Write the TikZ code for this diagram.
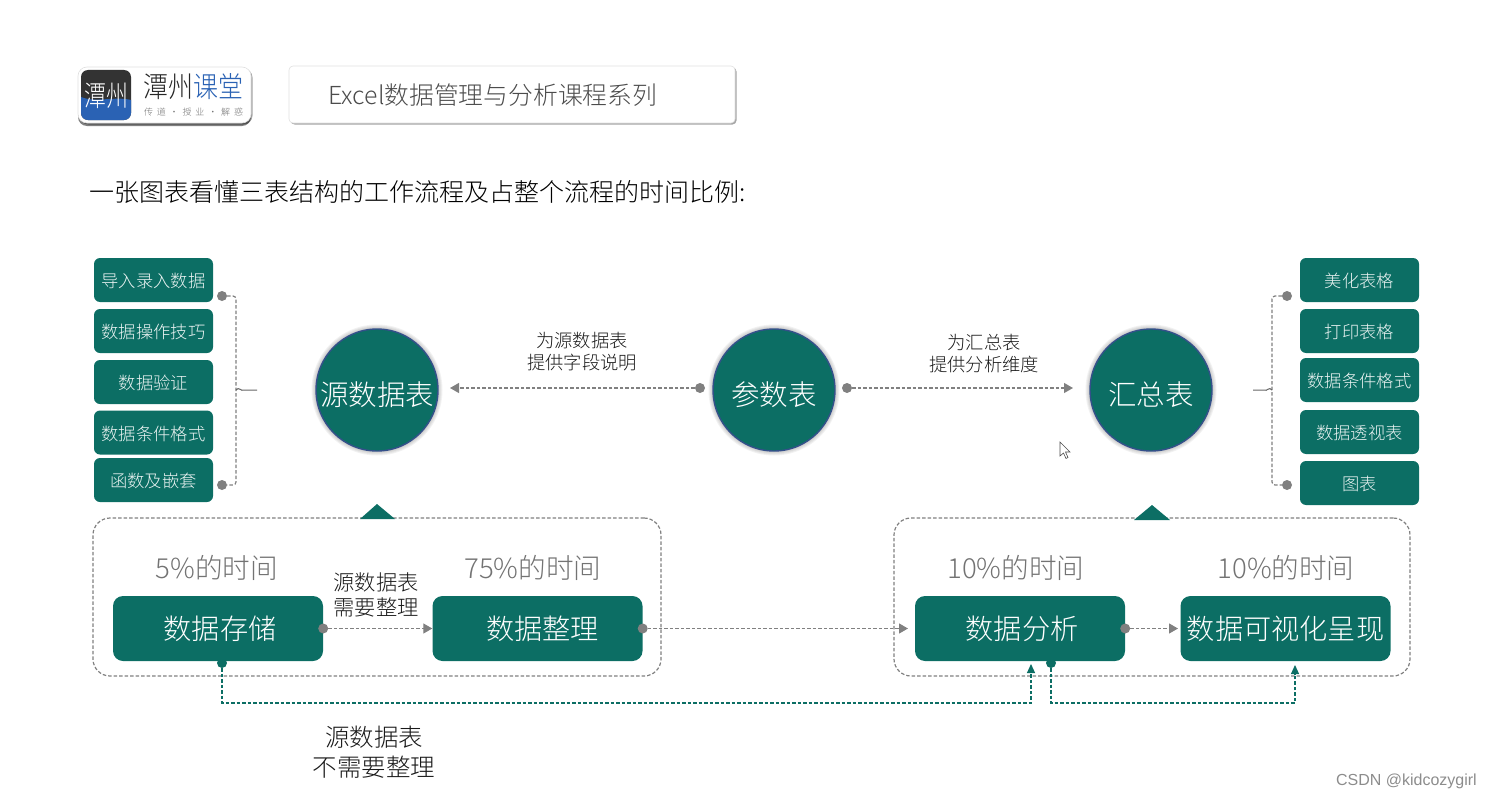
\documentclass[tikz,border=0pt]{standalone}
\usepackage{fontspec}
\setmainfont{Noto Sans CJK SC}[UprightFont=* Light]
\newfontfamily\wmfont{Liberation Sans}
\usetikzlibrary{arrows.meta,shadows}
\definecolor{deepteal}{HTML}{0C6E64}
\definecolor{ringblue}{HTML}{34508A}
\definecolor{dashgray}{HTML}{808080}
\definecolor{logoblue}{HTML}{2A62B4}
\tikzset{
    tagbox/.style = {fill = deepteal, rounded corners = 6pt, minimum width = 119pt, minimum height = 44pt,
        inner sep = 0pt, text = white!92!deepteal, text height = 15pt, text depth = 0pt, font = \fontsize{17.3}{20}\selectfont},
    stagebox/.style = {fill = deepteal, rounded corners = 10pt, minimum width = 210pt, minimum height = 65pt,
        inner sep = 0pt, text = white, font = \fontsize{28.2}{32}\selectfont},
    roundnode/.style = {circle, fill = deepteal, draw = ringblue, line width = 1.4pt, minimum size = 122pt,
        inner sep = 0pt, text = white, text height = 30pt, text depth = 0pt, font = \fontsize{28.5}{32}\selectfont},
    timelabel/.style = {text = black!55, inner sep = 0pt, font = \fontsize{27.6}{32}\selectfont},
    notelabel/.style = {align = center, inner sep = 0pt, text = black!90},
    graydash/.style = {draw = dashgray, line width = 1.2pt, dash pattern = on 3.5pt off 2pt,
        > = {Triangle[length = 9pt, width = 10pt]}},
    tealdash/.style = {draw = deepteal, line width = 1.1pt, dash pattern = on 3.5pt off 2pt,
        > = {Triangle[length = 9pt, width = 8pt]}},
    graydot/.style = {circle, fill = dashgray, minimum size = 10pt, inner sep = 0pt},
    tealdot/.style = {circle, fill = deepteal, minimum size = 10pt, inner sep = 0pt},
    framebox/.style = {draw = dashgray, line width = 1.2pt, dash pattern = on 3.5pt off 2pt, rounded corners = 17pt,
        inner sep = 0pt, minimum height = 158pt},
    headbox/.style = {fill = white, draw = black!12, line width = 0.6pt, rounded corners = 4pt, inner sep = 0pt,
        drop shadow = {shadow xshift = 1.5pt, shadow yshift = -1.5pt, fill = black, opacity = 0.35}}
}
\begin{document}
\begin{tikzpicture}[x = 1pt, y = -1pt]
    \useasboundingbox (0, 0) rectangle (1489, 800);
    \node[headbox, rounded corners = 9pt, minimum width = 173pt, minimum height = 56pt, drop shadow = {shadow xshift = 0pt, shadow yshift = -3pt, fill = black, opacity = 0.5}] (logobox) at (164.5, 95) {};
    \fill[black!80, rounded corners = 7pt] (81, 70) rectangle (131, 120);
    \begin{scope}
        \clip[rounded corners = 7pt] (81, 70) rectangle (131, 120);
        \fill[logoblue] (81, 97) .. controls (95, 103) and (115, 96) .. (131, 100) -- (131, 120) -- (81, 120) -- cycle;
    \end{scope}
    \node[text = white, inner sep = 0pt, font = \fontsize{22}{26}\selectfont] (logomark) at (106, 96) {\scalebox{1}[1.3]{潭州}};
    \node[inner sep = 0pt, text = black!85, font = \fontsize{25}{28}\selectfont] (logoname) at (193.5, 87) {\scalebox{1}[1.15]{潭州\textcolor{logoblue}{课堂}}};
    \node[inner sep = 0pt, text = black!55, font = \fontsize{9}{10}\selectfont] (logoslogan) at (193.5, 112) {\makebox[99pt][s]{传\hfill 道\hfill ·\hfill 授\hfill 业\hfill ·\hfill 解\hfill 惑}};
    \node[headbox, minimum width = 446pt, minimum height = 57pt] (headbar) at (512, 94.5) {};
    \node[anchor = west, inner sep = 0pt, text = black!70, font = \fontsize{24.8}{28}\selectfont] (headtext) at (328, 95) {Excel数据管理与分析课程系列};
    \node[anchor = west, inner sep = 0pt, text = black, font = \fontsize{25}{28}\selectfont] (title) at (89, 191.5) {一张图表看懂三表结构的工作流程及占整个流程的时间比例:};

    \foreach \nm/\yy/\txt in {srcA/280/导入录入数据, srcB/331/数据操作技巧, srcC/382/数据验证, srcD/432.5/数据条件格式, srcE/480/函数及嵌套}{
        \node[tagbox] (\nm) at (153.5, \yy) {\txt};
    }
    \foreach \nm/\yy/\txt in {sumA/280/美化表格, sumB/331/打印表格, sumC/380/数据条件格式, sumD/432/数据透视表, sumE/483/图表}{
        \node[tagbox] (\nm) at (1359.5, \yy) {\txt};
    }

    \foreach \cx in {377, 774, 1151}{
        \foreach \rr in {65.5, 64.5, 63.5, 62.5}{
            \fill[black, opacity = 0.05] (\cx, 390) circle (\rr pt);
        }
    }
    \node[roundnode] (source) at (377, 390) {源数据表};
    \node[roundnode] (param) at (774, 390) {参数表};
    \node[roundnode] (summary) at (1151, 390) {汇总表};

    \node[graydot] (ldotA) at (222, 296) {};
    \node[graydot] (ldotB) at (222, 485) {};
    \coordinate (lbrA) at (236, 296);
    \coordinate (lbrB) at (236, 485);
    \coordinate (lbrM) at (236, 390);
    \coordinate (lbrT) at (257, 390);
    \draw[graydash, rounded corners = 3pt] (ldotA) -- (lbrA) -- (lbrB) -- (ldotB);
    \draw[black!60, line width = 1pt] (lbrM) .. controls (239, 386) and (241, 392) .. (244, 390) -- (lbrT);
    \node[graydot] (rdotA) at (1287, 296) {};
    \node[graydot] (rdotB) at (1287, 485) {};
    \coordinate (rbrA) at (1272, 296);
    \coordinate (rbrB) at (1272, 485);
    \coordinate (rbrM) at (1272, 390);
    \coordinate (rbrT) at (1253, 390);
    \draw[graydash, rounded corners = 3pt] (rdotA) -- (rbrA) -- (rbrB) -- (rdotB);
    \draw[black!60, line width = 1pt] (rbrM) .. controls (1269, 386) and (1267, 392) .. (1264, 390) -- (rbrT);

    \node[graydot] (pdotL) at (700, 388) {};
    \node[graydot] (pdotR) at (847, 388) {};
    \coordinate (srcin) at (450, 388);
    \coordinate (sumin) at (1073, 388);
    \draw[graydash, ->] (pdotL) -- (srcin);
    \draw[graydash, ->] (pdotR) -- (sumin);
    \node[notelabel, font = \fontsize{18.3}{22}\selectfont] (noteL) at (582, 352) {为源数据表\\提供字段说明};
    \node[notelabel, font = \fontsize{18.3}{22}\selectfont] (noteR) at (984, 354) {为汇总表\\提供分析维度};

    \node[framebox, minimum width = 568pt] (frameL) at (377, 597) {};
    \node[framebox, minimum width = 516pt] (frameR) at (1152, 597) {};
    \fill[deepteal] (360, 519) -- (377, 504) -- (395, 519) -- cycle;
    \fill[deepteal] (1134, 520) -- (1152, 505) -- (1170, 520) -- cycle;

    \node[timelabel] (timeA) at (217, 568) {5\%的时间};
    \node[timelabel] (timeB) at (533, 568) {75\%的时间};
    \node[timelabel] (timeC) at (1016, 568) {10\%的时间};
    \node[timelabel] (timeD) at (1286, 568) {10\%的时间};
    \node[stagebox] (store) at (218, 628.5) {\hspace{4pt}数据存储};
    \node[stagebox] (tidy) at (537.5, 628.5) {\hspace{10pt}数据整理};
    \node[stagebox] (analyse) at (1020, 628.5) {\hspace{4pt}数据分析};
    \node[stagebox] (visual) at (1285.5, 628.5) {数据可视化呈现};

    \node[graydot] (dotA) at (store.east) {};
    \node[graydot] (dotB) at (tidy.east) {};
    \node[graydot] (dotC) at (analyse.east) {};
    \coordinate (visualin) at (1178, 628.5);
    \coordinate (analysein) at (908, 628.5);
    \draw[graydash, ->] (dotA) -- (tidy.west);
    \draw[graydash, ->] (dotB) -- (analysein);
    \draw[graydash, ->] (dotC) -- (visualin);
    \node[notelabel, font = \fontsize{21.3}{24.5}\selectfont] (noteM) at (376, 595) {源数据表\\需要整理};

    \node[tealdot] (tdotA) at (222, 663) {};
    \node[tealdot] (tdotB) at (1051, 663) {};
    \coordinate (tcornerA) at (222, 703);
    \coordinate (tcornerB) at (1031, 703);
    \coordinate (tendB) at (1031, 664);
    \coordinate (tcornerC) at (1051, 703);
    \coordinate (tcornerD) at (1295, 703);
    \coordinate (tendD) at (1295, 665);
    \draw[tealdash, ->] (tdotA) -- (tcornerA) -- (tcornerB) -- (tendB);
    \draw[tealdash, ->] (tdotB) -- (tcornerC) -- (tcornerD) -- (tendD);
    \node[notelabel, font = \fontsize{24.5}{30}\selectfont] (noteB) at (374, 752) {源数据表\\不需要整理};

    \draw[fill = white, draw = black!70, line width = 0.6pt] (1060, 442) -- (1060, 456) -- (1063.5, 453) -- (1066, 458.5) -- (1068, 457.5) -- (1065.5, 452) -- (1070, 452) -- cycle;
    \node[anchor = east, inner sep = 0pt, text = black!45, font = \wmfont\fontsize{16}{18}\selectfont] (mark) at (1477, 781) {CSDN @kidcozygirl};
\end{tikzpicture}
\end{document}
